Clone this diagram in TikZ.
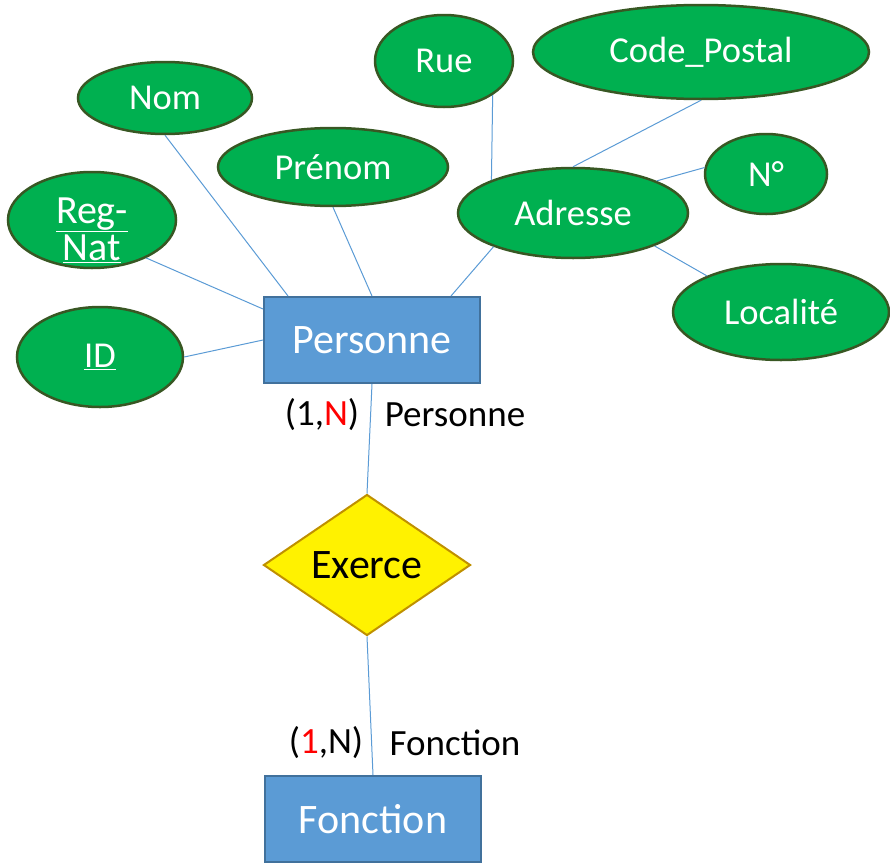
\documentclass[tikz,border=0pt]{standalone}
\usepackage{fontspec}
\setmainfont{Carlito}
\usetikzlibrary{shapes.geometric,positioning}
\definecolor{attrgreen}{HTML}{00B050}
\definecolor{attrline}{HTML}{385723}
\definecolor{entblue}{HTML}{5B9BD5}
\definecolor{entline}{HTML}{41719C}
\definecolor{relline}{HTML}{BF9000}

\begin{document}
\begin{tikzpicture}[x=1pt,y=-1pt,on grid,
	attr/.style={ellipse,draw=attrline,line width=2.5pt,fill=attrgreen,text=white,
		inner sep=0pt,font=\fontsize{36.5}{37}\selectfont},
	entity/.style={rectangle,draw=entline,line width=2pt,fill=entblue,text=white,
		minimum width=216pt,minimum height=86pt,font=\fontsize{42}{44}\selectfont},
	relation/.style={diamond,draw=relline,line width=2pt,fill=yellow,inner sep=0pt,
		minimum width=207pt,minimum height=141pt,font=\fontsize{42}{44}\selectfont},
	card/.style={font=\fontsize{37}{39}\selectfont},
	link/.style={draw=entblue,line width=1pt}] 
	\useasboundingbox (0,0) rectangle (890,862);
	
	% entites et association
	\node[entity] (personne) at (372,340) {Personne};
	\node[relation] (exerce) [below left=225pt and 5pt of personne] {Exerce};
	\node[entity] (fonction) [below right=254pt and 6pt of exerce] {Fonction};
	
	% attributs
	\node[attr,minimum width=174pt,minimum height=72pt] (nom) at (165,98) {Nom};
	\node[attr,minimum width=138pt,minimum height=92pt] (rue) at (444,61) {Rue};
	\node[attr,minimum width=336pt,minimum height=94pt] (code) at (701,52) {Code\_Postal};
	\node[attr,minimum width=230pt,minimum height=78pt] (prenom) at (333,167) {Prénom};
	\node[attr,minimum width=168pt,minimum height=96pt,inner ysep=-14pt,align=center,
		font=\fontsize{40}{37}\selectfont] (regnat) at (92,220)
		{\rule{0pt}{46pt}\underline{Reg-}\\\underline{Nat}};
	\node[attr,minimum width=230pt,minimum height=90pt] (adresse) at (573,213) {Adresse};
	\node[attr,minimum width=122pt,minimum height=80pt] (num) at (766,174) {N°};
	\node[attr,minimum width=216pt,minimum height=96pt] (localite) at (781,312) {Localité};
	\node[attr,minimum width=166pt,minimum height=100pt] (id) at (100,357) {\underline{ID}};
	
	% cardinalites
	\node[card] (cardpers) at (322,415) {(1,\textcolor{red}{N})};
	\node[card] (rolepers) at (455,415) {Personne};
	\node[card] (cardfonc) at (326,743) {(\textcolor{red}{1},N)};
	\node[card] (rolefonc) at (455,743) {Fonction};
	
	\path[link] 
	(nom.south) edge ([xshift=25pt]personne.north west)
	(prenom.south) edge (personne.north)
	(regnat.-35) edge ([yshift=-13pt]personne.north west)
	(id.east) edge (personne.west)
	(adresse.-157) edge ([xshift=-30pt]personne.north east)
	(rue.-35) edge (adresse.158)
	(code.south) edge (adresse.north)
	(num.174) edge (adresse.21)
	(localite.154) edge (adresse.-22)
	(personne.south) edge (exerce.north)
	(exerce.south) edge (fonction.north);
\end{tikzpicture}
\end{document}
